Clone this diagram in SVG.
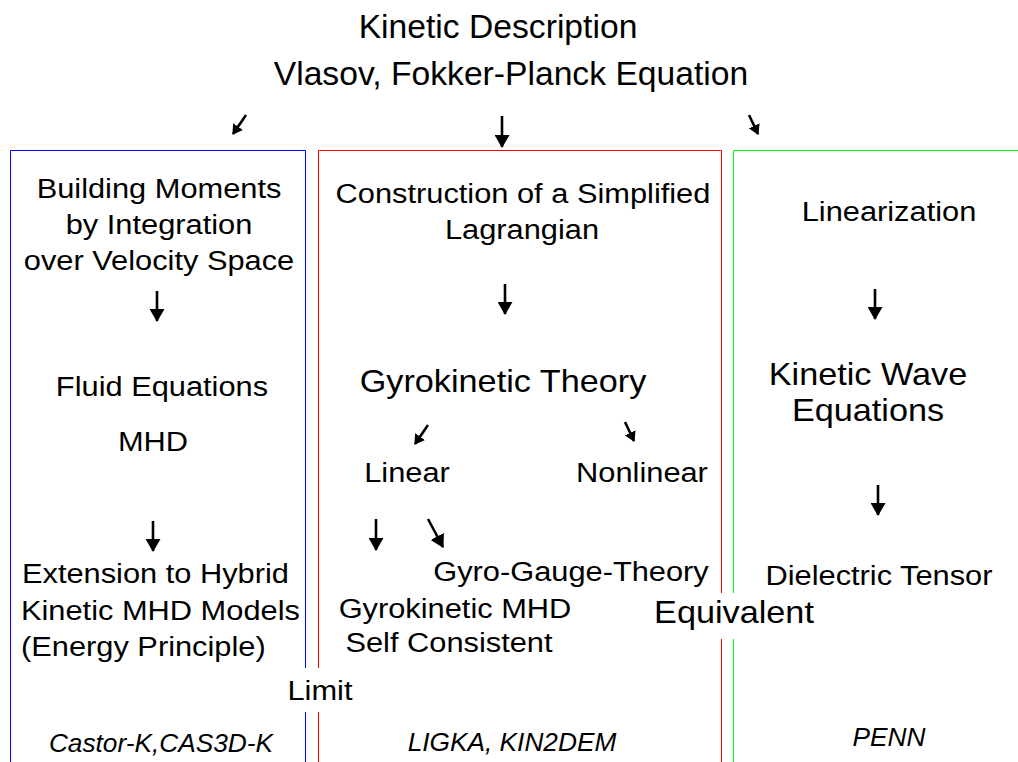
<svg xmlns="http://www.w3.org/2000/svg" width="1018" height="762" viewBox="0 0 1018 762">
<style>
text{font-family:"Liberation Sans",Arial,sans-serif;fill:#000;text-anchor:middle;transform-box:fill-box;transform-origin:50% 50%}
.t{font-size:33px;transform:scaleX(1.02)}
.m{font-size:28px;transform:scaleX(1.1)}
.l{font-size:32px;transform:scaleX(1.07)}
.i{font-size:25px;font-style:italic;transform:scaleX(1.05)}
.left{text-anchor:start;transform-origin:0 50%}
.ar{stroke:#000;stroke-width:2.6;fill:none}
</style>
<defs>
<marker id="h" viewBox="0 0 13 15" markerWidth="13" markerHeight="15" refX="12" refY="7.5" orient="auto" markerUnits="userSpaceOnUse"><path d="M0,0 L13,7.5 L0,15 z" fill="#000"/></marker>
<marker id="hs" viewBox="0 0 10 12" markerWidth="10" markerHeight="12" refX="9" refY="6" orient="auto" markerUnits="userSpaceOnUse"><path d="M0,0 L10,6 L0,12 z" fill="#000"/></marker>
</defs>
<rect width="1018" height="762" fill="#fff"/>
<g id="boxes">
<path d="M10.5,762 V150.5 H305.5 V762" fill="none" stroke="#0000ff"/>
<path d="M318.5,762 V150.5 H721.5 V762" fill="none" stroke="#ff0000"/>
<path d="M733.5,762 V150.5 H1018" fill="none" stroke="#00ff00"/>
</g>
<g id="title">
<text class="t" x="498" y="38">Kinetic Description</text>
<text class="t" x="511" y="85">Vlasov, Fokker-Planck Equation</text>
</g>
<g id="connectors">
<line class="ar" x1="246" y1="115" x2="233" y2="134" marker-end="url(#hs)"/>
<line class="ar" x1="502" y1="116" x2="502" y2="147" marker-end="url(#h)"/>
<line class="ar" x1="749" y1="115" x2="758" y2="134" marker-end="url(#hs)"/>
<line class="ar" x1="157" y1="291" x2="157" y2="321" marker-end="url(#h)"/>
<line class="ar" x1="153" y1="521" x2="153" y2="551" marker-end="url(#h)"/>
<line class="ar" x1="505" y1="284" x2="505" y2="314" marker-end="url(#h)"/>
<line class="ar" x1="428" y1="425" x2="415" y2="444" marker-end="url(#hs)"/>
<line class="ar" x1="625" y1="422" x2="634" y2="441" marker-end="url(#hs)"/>
<line class="ar" x1="376" y1="519" x2="376" y2="550" marker-end="url(#h)"/>
<line class="ar" x1="428" y1="519" x2="443" y2="547" marker-end="url(#h)"/>
<line class="ar" x1="875" y1="289" x2="875" y2="319" marker-end="url(#h)"/>
<line class="ar" x1="878" y1="485" x2="878" y2="515" marker-end="url(#h)"/>
</g>
<g id="n-moments">
<text class="m" x="159" y="198">Building Moments</text>
<text class="m" x="159" y="234">by Integration</text>
<text class="m" x="159" y="270">over Velocity Space</text>
</g>
<g id="n-fluid"><text class="m" x="162" y="396">Fluid Equations</text></g>
<g id="n-mhd"><text class="m" x="153" y="451">MHD</text></g>
<g id="n-hybrid">
<text class="m left" x="22" y="583">Extension to Hybrid</text>
<text class="m left" x="21" y="620">Kinetic MHD Models</text>
<text class="m left" x="21" y="656">(Energy Principle)</text>
</g>
<g id="n-lagrangian">
<text class="m" x="523" y="203">Construction of a Simplified</text>
<text class="m" x="522" y="239">Lagrangian</text>
</g>
<g id="n-gyro"><text class="l" x="503" y="392">Gyrokinetic Theory</text></g>
<g id="n-linear"><text class="m" x="407" y="482">Linear</text></g>
<g id="n-nonlinear"><text class="m" x="642" y="482">Nonlinear</text></g>
<g id="n-gauge"><text class="m" x="571" y="581">Gyro-Gauge-Theory</text></g>
<g id="n-gkmhd">
<text class="m" x="455" y="618">Gyrokinetic MHD</text>
<text class="m" x="449" y="652">Self Consistent</text>
</g>
<g id="n-linearization"><text class="m" x="889" y="221">Linearization</text></g>
<g id="n-kwe">
<text class="l" x="868" y="385">Kinetic Wave</text>
<text class="l" x="868" y="421">Equations</text>
</g>
<g id="n-dielectric"><text class="m" x="879" y="585">Dielectric Tensor</text></g>
<g id="n-equivalent">
<rect x="652" y="593" width="166" height="46" fill="#fff"/>
<text class="l" x="734" y="623">Equivalent</text>
</g>
<g id="n-limit">
<rect x="282" y="668" width="74" height="44" fill="#fff"/>
<text class="m" x="320" y="700">Limit</text>
</g>
<g id="codes">
<text class="i" x="161" y="752">Castor-K,CAS3D-K</text>
<text class="i" x="512" y="751">LIGKA, KIN2DEM</text>
<text class="i" x="889" y="746">PENN</text>
</g>
</svg>
